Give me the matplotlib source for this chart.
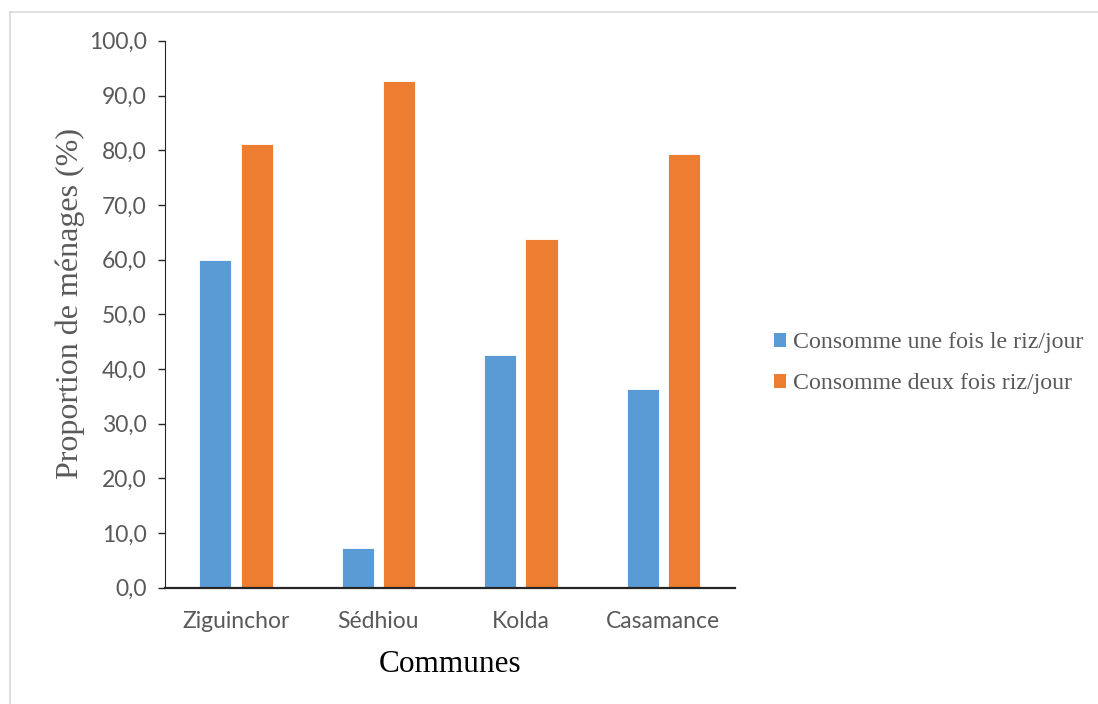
import matplotlib.pyplot as plt
import numpy as np
from matplotlib.lines import Line2D
from matplotlib.patches import Patch

# Rice consumption by commune
communes = ['Ziguinchor', 'Sédhiou', 'Kolda', 'Casamance']
une_fois = [60.0, 7.3, 42.5, 36.3]
deux_fois = [81.2, 92.7, 63.8, 79.3]
series_labels = ['Consomme une fois le riz/jour', 'Consomme deux fois riz/jour']

BLUE = '#5B9BD5'
ORANGE = '#ED7D31'
GREY = '#595959'
serif = ['Liberation Serif', 'DejaVu Serif']
sans = ['Lato', 'DejaVu Sans']

fig = plt.figure(figsize=(10.98, 7.04), dpi=100)
ax = fig.add_axes([0.150, 0.165, 0.519, 0.777])

x = np.arange(len(communes))
w = 0.225
ax.bar(x - 0.145, une_fois, w, color=BLUE, edgecolor='white', linewidth=0.6)
ax.bar(x + 0.145, deux_fois, w, color=ORANGE, edgecolor='white', linewidth=0.6)

ax.set_xlim(-0.5, len(communes) - 0.5)
ax.set_ylim(0, 100)
ax.set_yticks(np.arange(0, 101, 10))
ax.set_yticklabels([f'{v:.1f}'.replace('.', ',') for v in np.arange(0, 101, 10)],
                   fontfamily=sans, fontsize=16.5, color=GREY)
ax.set_xticks(x)
ax.set_xticklabels(communes, fontfamily=sans, fontsize=16.5, color=GREY)
ax.tick_params(axis='x', length=0, pad=16.5)
ax.tick_params(axis='y', direction='out', length=5, width=1, color='#262626', pad=8)

for side in ['top', 'right']:
    ax.spines[side].set_visible(False)
ax.spines['left'].set_color('#262626')
ax.spines['bottom'].set_color('#262626')
ax.spines['bottom'].set_linewidth(1.6)

ax.set_ylabel('Proportion de ménages (%)', fontfamily=serif, fontsize=23, color=GREY)
ax.yaxis.set_label_coords(-0.140, 0.52)
ax.set_xlabel('Communes', fontfamily=serif, fontsize=22.5, color='black', labelpad=13)

handles = [Patch(facecolor=BLUE), Patch(facecolor=ORANGE)]
fig.legend(handles, series_labels, loc='center left', bbox_to_anchor=(0.685, 0.484),
           frameon=False, prop={'family': serif, 'size': 17.2}, labelcolor=GREY,
           handlelength=0.52, handleheight=0.52, handletextpad=0.3, labelspacing=0.84)

# thin grey frame on top and left edges
fig.add_artist(Line2D([10 / 1098, 1.0], [1 - 12 / 704, 1 - 12 / 704],
                      transform=fig.transFigure, color='#d9d9d9', linewidth=1.2))
fig.add_artist(Line2D([10 / 1098, 10 / 1098], [0, 1 - 12 / 704],
                      transform=fig.transFigure, color='#d9d9d9', linewidth=1.2))

fig.savefig('out.png', dpi=100)
